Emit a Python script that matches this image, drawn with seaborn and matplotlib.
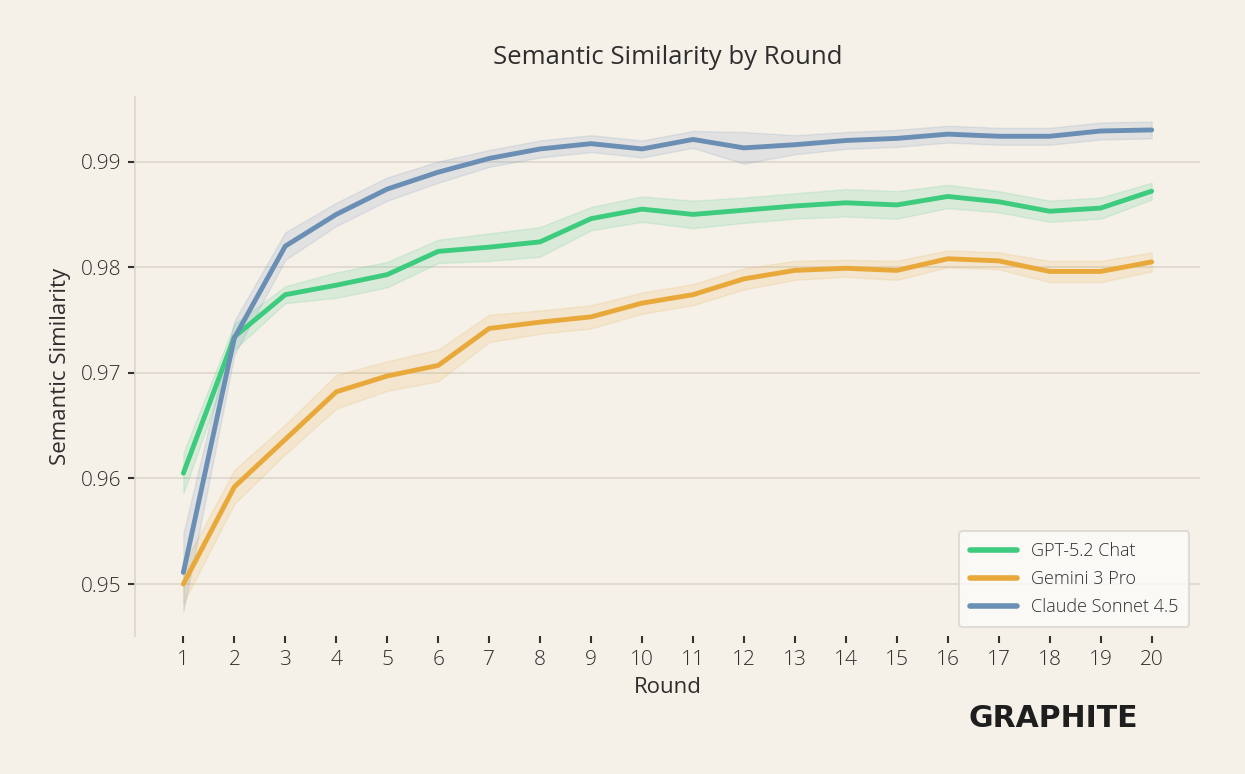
import numpy as np
import pandas as pd
import matplotlib
matplotlib.use("Agg")
import matplotlib.pyplot as plt
import seaborn as sns

rounds = list(range(1, 21))
models = ["GPT-5.2 Chat", "Gemini 3 Pro", "Claude Sonnet 4.5"]

gpt_mean = [0.9605, 0.9734, 0.9774, 0.9783, 0.9793, 0.9815, 0.9819, 0.9824, 0.9846, 0.9855,
            0.9850, 0.9854, 0.9858, 0.9861, 0.9859, 0.9867, 0.9862, 0.9853, 0.9856, 0.9872]
gpt_ci = [0.0019, 0.0012, 0.0008, 0.0012, 0.0012, 0.0011, 0.0013, 0.0014, 0.0011, 0.0012,
          0.0013, 0.0012, 0.0012, 0.0013, 0.0013, 0.0011, 0.0010, 0.0010, 0.0010, 0.0008]

gemini_mean = [0.9500, 0.9592, 0.9637, 0.9682, 0.9697, 0.9707, 0.9742, 0.9748, 0.9753, 0.9766,
               0.9774, 0.9789, 0.9797, 0.9799, 0.9797, 0.9808, 0.9806, 0.9796, 0.9796, 0.9805]
gemini_ci = [0.0018, 0.0016, 0.0014, 0.0016, 0.0014, 0.0015, 0.0013, 0.0011, 0.0011, 0.0010,
             0.0010, 0.0010, 0.0009, 0.0008, 0.0009, 0.0008, 0.0008, 0.0010, 0.0010, 0.0009]

claude_mean = [0.9511, 0.9733, 0.9820, 0.9850, 0.9874, 0.9890, 0.9903, 0.9912, 0.9917, 0.9912,
               0.9921, 0.9913, 0.9916, 0.9920, 0.9922, 0.9926, 0.9924, 0.9924, 0.9929, 0.9930]
claude_ci = [0.0037, 0.0016, 0.0013, 0.0011, 0.0011, 0.0010, 0.0008, 0.0008, 0.0008, 0.0008,
             0.0008, 0.0015, 0.0009, 0.0008, 0.0008, 0.0008, 0.0008, 0.0008, 0.0008, 0.0008]

colors = ["#3dcb7e", "#e9a93a", "#6b8fb4"]

df = pd.DataFrame({
    "Round": rounds * 3,
    "Semantic Similarity": gpt_mean + gemini_mean + claude_mean,
    "ci": gpt_ci + gemini_ci + claude_ci,
    "Model": [m for m in models for _ in rounds],
})

bg = "#f5f0e8"
sns.set_theme(style="white")
plt.rcParams['font.family'] = ['Open Sans', 'DejaVu Sans']
plt.rcParams['font.weight'] = 'light'
plt.rcParams['text.color'] = '#2e2e2e'
plt.rcParams['axes.labelcolor'] = '#2e2e2e'
plt.rcParams['xtick.color'] = '#2e2e2e'
plt.rcParams['ytick.color'] = '#2e2e2e'

fig = plt.figure(figsize=(12.45, 7.74), dpi=100, facecolor=bg)
ax = fig.add_axes([0.1084, 0.1783, 0.8555, 0.6964])
ax.set_facecolor(bg)

sns.lineplot(data=df, x="Round", y="Semantic Similarity", hue="Model",
             palette=colors, linewidth=3.5, errorbar=None, ax=ax)

#bands
for m, c in zip(models, colors):
    d = df[df["Model"] == m]
    ax.fill_between(d["Round"], d["Semantic Similarity"] - d["ci"],
                    d["Semantic Similarity"] + d["ci"], color=c, alpha=0.15, lw=1.0)

ax.set_xticks(rounds)
ax.set_yticks([0.95, 0.96, 0.97, 0.98, 0.99])
ax.tick_params(axis='both', labelsize=15, length=5, width=1.5, direction='out',
               bottom=True, left=True, color='#333333', pad=5)
ax.yaxis.grid(True, color='#dcd6cd', lw=1.2)
ax.xaxis.grid(False)
for s in ['top', 'right', 'bottom']:
    ax.spines[s].set_visible(False)
ax.spines['left'].set_color('#dcd6cd')
ax.spines['left'].set_linewidth(1.2)

ax.set_title("Semantic Similarity by Round", fontsize=18.5, pad=24)
ax.set_xlabel("Round", fontsize=16, labelpad=5)
ax.set_ylabel("Semantic Similarity", fontsize=16, labelpad=7)

leg = ax.legend(loc='lower right', fontsize=13, frameon=True, handlelength=2.6,
                borderpad=0.6, labelspacing=0.55, bbox_to_anchor=(0.9985, 0.0))
leg.get_frame().set_facecolor('#fdfcfa')
leg.get_frame().set_edgecolor('#d9d6d0')
leg.get_frame().set_linewidth(1.5)
for h in leg.get_lines():
    h.set_linewidth(4)

fig.text(0.9145, 0.072, "GRAPHITE", fontsize=21.5, fontweight='bold', color='#1e1e1e',
         family='DejaVu Sans', ha='right', va='center')

fig.savefig("out.png", dpi=100, facecolor=bg)
